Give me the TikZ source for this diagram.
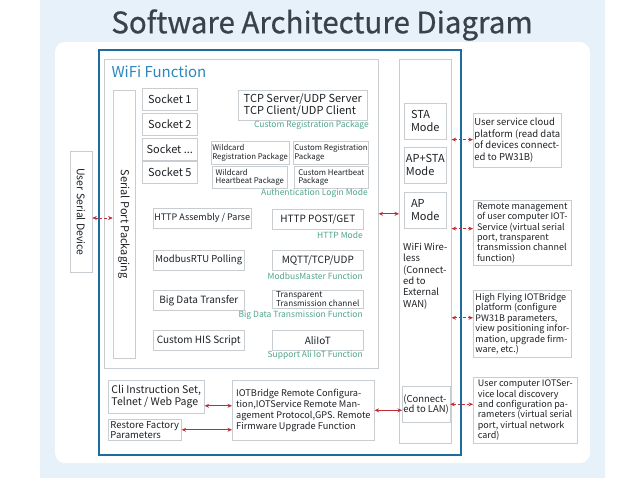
\documentclass[tikz,border=0pt]{standalone}
\usepackage{fontspec}
\setmainfont{Noto Sans CJK SC}
\newfontfamily\titlefont{Noto Sans CJK SC}[FakeBold=0.6]
\usetikzlibrary{arrows.meta}
\definecolor{cbg}{RGB}{230,241,250}
\definecolor{cframe}{RGB}{28,108,158}
\definecolor{cbox}{RGB}{200,205,210}
\definecolor{ctext}{RGB}{30,33,37}
\definecolor{ctitle}{RGB}{58,65,74}
\definecolor{cwifi}{RGB}{45,135,190}
\definecolor{clabel}{RGB}{80,165,140}
\definecolor{carrow}{RGB}{192,45,55}
\tikzset{
  box/.style={draw=cbox, line width=0.6pt, fill=white, anchor=north west,
    inner sep=1pt, text=ctext, align=left},
  sockbox/.style={box, align=center, minimum width=55pt, minimum height=22pt,
    font=\fontsize{11}{12}\selectfont},
  lbl/.style={font=\fontsize{8.5}{9}\selectfont, text=clabel,
    anchor=north east, inner sep=0pt},
  link/.style={carrow, line width=0.8pt,
    {Stealth[length=4.5pt,width=4pt]}-{Stealth[length=4.5pt,width=4pt]}},
  wlink/.style={link, dash pattern=on 2.5pt off 2pt},
}

\begin{document}
\begin{tikzpicture}[x=1pt, y=-1pt]
\useasboundingbox (0,0) rectangle (640,480);
\fill[cbg] (40,0) rectangle (605,478);
\fill[white, rounded corners=10pt] (55,42) rectangle (590,463);
\node[font=\titlefont\fontsize{29.5}{32}\selectfont, text=ctitle] (title) at (322,25)
  {Software Architecture Diagram};
\draw[cframe, line width=2pt] (99,50) rectangle (461,455);
% wifi function block
\node[box, fill=none, minimum width=274pt, minimum height=309pt] (wifi) at (104,59) {};
\node[anchor=west, font=\fontsize{15}{16}\selectfont, text=cwifi] (wifititle) at (108,72)
  {WiFi Function};
\node[box, anchor=center, rotate=-90, minimum width=268pt, minimum height=22pt,
  font=\fontsize{11}{12}\selectfont] (spp) at (124,224) {Serial Port Packaging};
\node[box, anchor=center, rotate=-90, minimum width=121pt, minimum height=22pt,
  font=\fontsize{10.5}{12}\selectfont] (usd) at (81,212) {User Serial Device};
\node[sockbox] (sock1) at (142,88) {Socket 1};
\node[sockbox] (sock2) at (142,113) {Socket 2};
\node[sockbox] (sockd) at (142,138) {Socket .{}.{}.};
\node[sockbox] (sock5) at (142,161) {Socket 5};
\node[box, minimum width=129pt, minimum height=30pt, font=\fontsize{11}{12.5}\selectfont]
  (tcp) at (238,90) {TCP Server/UDP Server\\TCP Client/UDP Client};
\node[lbl] (lblreg) at (369,121) {Custom Registration Package};
\node[box, minimum width=75pt, minimum height=23pt, font=\fontsize{7.8}{8.5}\selectfont]
  (wreg) at (211,141) {Wildcard\\Registration Package};
\node[box, minimum width=75pt, minimum height=23pt, font=\fontsize{7.8}{8.5}\selectfont]
  (creg) at (293,141) {Custom Registration\\Package};
\node[box, minimum width=75pt, minimum height=22pt, font=\fontsize{7.8}{8.5}\selectfont]
  (whb) at (212,166) {Wildcard\\Heartbeat Package};
\node[box, minimum width=74pt, minimum height=22pt, font=\fontsize{7.8}{8.5}\selectfont]
  (chb) at (294,166) {Custom Heartbeat\\Package};
\node[lbl] (lblauth) at (368,189) {Authentication Login Mode};
% function rows
\node[box, minimum width=91pt, minimum height=20pt, align=center,
  font=\fontsize{9}{10}\selectfont] (http) at (153,208) {HTTP Assembly / Parse};
\node[box, minimum width=91pt, minimum height=20pt, align=center,
  font=\fontsize{10}{11}\selectfont] (post) at (272,209) {HTTP POST/GET};
\node[lbl] (lblhttp) at (363,232) {HTTP Mode};
\node[box, minimum width=91pt, minimum height=20pt, align=center,
  font=\fontsize{9.5}{10}\selectfont] (modbus) at (153,250) {ModbusRTU Polling};
\node[box, minimum width=91pt, minimum height=20pt, align=center,
  font=\fontsize{10}{11}\selectfont] (mqtt) at (272,250) {MQTT/TCP/UDP};
\node[lbl] (lblmod) at (363,273) {ModbusMaster Function};
\node[box, minimum width=91pt, minimum height=20pt, align=center,
  font=\fontsize{10}{11}\selectfont] (bigdata) at (153,290) {Big Data Transfer};
\node[box, minimum width=91pt, minimum height=18pt,
  font=\fontsize{8.2}{8}\selectfont] (trans) at (272,290)
  {Transparent\\Transmission channel};
\node[lbl] (lblbig) at (363,311) {Big Data Transmission Function};
\node[box, minimum width=91pt, minimum height=20pt, align=center,
  font=\fontsize{10}{11}\selectfont] (his) at (153,330) {Custom HIS Script};
\node[box, minimum width=91pt, minimum height=20pt, align=center,
  font=\fontsize{10}{11}\selectfont] (ali) at (272,330) {AliIoT};
\node[lbl] (lblali) at (363,351) {Support Ali IoT Function};
% wireless column
\node[box, fill=none, minimum width=52pt, minimum height=384pt] (wl) at (399,59) {};
\node[box, minimum width=42pt, minimum height=36pt, font=\fontsize{11}{13}\selectfont]
  (sta) at (404,103) {STA\\Mode};
\node[box, minimum width=42pt, minimum height=36pt, font=\fontsize{11}{13}\selectfont]
  (apsta) at (404,147) {AP+STA\\Mode};
\node[box, minimum width=42pt, minimum height=36pt, font=\fontsize{11}{13}\selectfont]
  (ap) at (404,192) {AP\\Mode};
\node[anchor=north west, inner sep=0pt, align=left, text=ctext,
  font=\fontsize{9.5}{11.3}\selectfont] (wltext) at (403,243)
  {WiFi Wire-\\less\\(Connect-\\ed to\\External\\WAN)};
\node[box, minimum width=47pt, minimum height=36pt, font=\fontsize{9.5}{10.5}\selectfont]
  (lan) at (402,386) {(Connect-\\ed to LAN)};
% outside services
\node[box, minimum width=88pt, minimum height=54pt, font=\fontsize{9.5}{11.5}\selectfont]
  (cloud) at (473,113)
  {User service cloud\\platform (read data\\of devices connect-\\ed to PW31B)};
\node[box, minimum width=98pt, minimum height=65pt, font=\fontsize{9}{10.4}\selectfont]
  (remote) at (473,200)
  {Remote management\\of user computer IOT-\\Service (virtual serial\\port, transparent\\transmission channel\\function)};
\node[box, minimum width=98pt, minimum height=67pt, font=\fontsize{9}{10.4}\selectfont]
  (hflying) at (473,290)
  {High Flying IOTBridge\\platform (configure\\PW31B parameters,\\view positioning infor-\\mation, upgrade firm-\\ware, etc.)};
\node[box, minimum width=104pt, minimum height=66pt, font=\fontsize{9}{10.4}\selectfont]
  (ucomp) at (473,377)
  {User computer IOTSer-\\vice local discovery\\and configuration pa-\\rameters (virtual serial\\port, virtual network\\card)};
% bottom row
\node[box, minimum width=96pt, minimum height=33pt, font=\fontsize{10.5}{12}\selectfont]
  (cli) at (108,380) {Cli Instruction Set,\\Telnet / Web Page};
\node[box, minimum width=73pt, minimum height=21pt, font=\fontsize{9.5}{10}\selectfont]
  (restore) at (108,419) {Restore Factory\\Parameters};
\node[box, minimum width=142pt, minimum height=60pt, font=\fontsize{9.2}{11}\selectfont]
  (iot) at (232,380)
  {IOTBridge Remote Configura-\\tion,IOTService Remote Man-\\agement Protocol,GPS. Remote\\Firmware Upgrade Function};
% connectors
\draw[wlink] ([yshift=-6pt]usd.north) -- ([yshift=-6pt]usd.north -| spp.south);
\draw[link] (wifi.east) -- (wifi.east -| wl.west);
\draw[wlink] (sta.south -| wl.east) -- (sta.south -| cloud.west);
\draw[wlink] (ap.south -| wl.east) -- (ap.south -| remote.west);
\draw[wlink] ([yshift=6pt]hflying.west -| wl.east) -- ([yshift=6pt]hflying.west);
\draw[wlink] (lan.east) -- (lan.east -| ucomp.west);
\draw[link] ([yshift=-9pt]cli.east) -- ([yshift=-9pt]cli.east -| iot.west);
\draw[link] (restore.east) -- (restore.east -| iot.west);
\draw[link] (iot.east) -- (iot.east -| lan.west);
\end{tikzpicture}
\end{document}
